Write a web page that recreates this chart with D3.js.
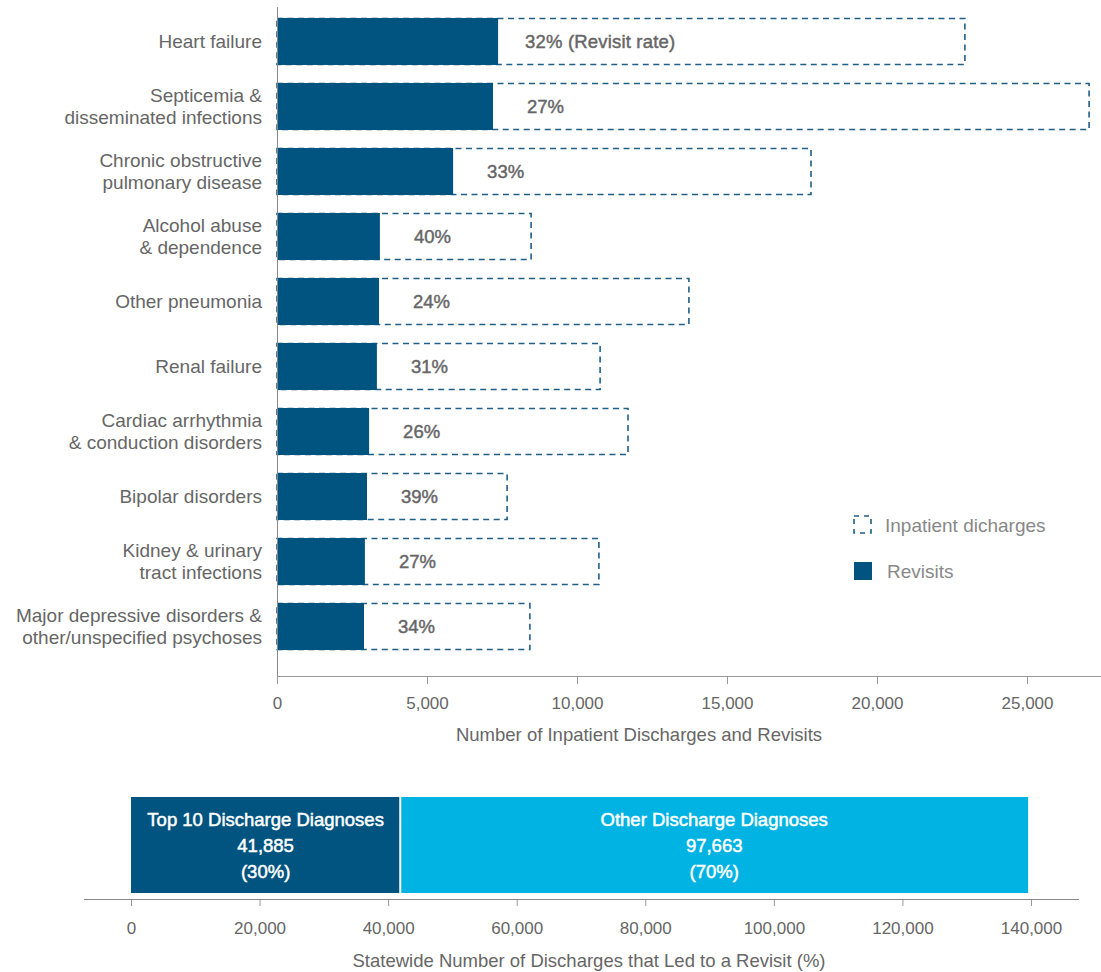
<!DOCTYPE html>
<html>
<head>
<meta charset="utf-8">
<script src="https://cdn.jsdelivr.net/npm/d3@7"></script>
<style>
  html, body { margin: 0; padding: 0; background: #fff; }
  svg { display: block; font-family: "Liberation Sans", Arial, sans-serif; }
</style>
</head>
<body>
<svg id="chart" width="1101" height="972"></svg>
<script>
// Top 10 discharge diagnoses: inpatient discharges vs. revisits
const diagnoses = [
  ["Heart failure"],
  ["Septicemia &", "disseminated infections"],
  ["Chronic obstructive", "pulmonary disease"],
  ["Alcohol abuse", "& dependence"],
  ["Other pneumonia"],
  ["Renal failure"],
  ["Cardiac arrhythmia", "& conduction disorders"],
  ["Bipolar disorders"],
  ["Kidney & urinary", "tract infections"],
  ["Major depressive disorders &", "other/unspecified psychoses"]
];
const discharges = [22930, 27070, 17800, 8470, 13730, 10770, 11700, 7670, 10730, 8430];
const revisits   = [7370, 7200, 5870, 3430, 3400, 3330, 3070, 3000, 2930, 2900];
const rateLabels = ["32% (Revisit rate)", "27%", "33%", "40%", "24%", "31%", "26%", "39%", "27%", "34%"];
const topTicks = [0, 5000, 10000, 15000, 20000, 25000];

// Statewide split of discharges that led to a revisit
const groupNames  = ["Top 10 Discharge Diagnoses", "Other Discharge Diagnoses"];
const groupValues = [41885, 97663];
const groupShares = ["(30%)", "(70%)"];
const bottomTicks = [0, 20000, 40000, 60000, 80000, 100000, 120000, 140000];

const svg = d3.select("#chart");
const fmt = d3.format(",");
const navy = "#00547f";
const dashColor = "#1f5f88";
const textGray = "#666";

// ---------- Main horizontal bar chart ----------
const x = d3.scaleLinear().domain([0, 25000]).range([277, 1027]);
const y = d3.scaleBand().domain(d3.range(diagnoses.length)).range([9, 659]).paddingInner(0.277).paddingOuter(0.138);

const rows = svg.append("g").selectAll("g").data(diagnoses).join("g");

// Discharges as dashed outlines
rows.append("rect")
  .attr("x", x(0))
  .attr("y", (d, i) => y(i) + 0.5)
  .attr("width", (d, i) => x(discharges[i]) - x(0))
  .attr("height", y.bandwidth() - 1)
  .attr("fill", "none")
  .attr("stroke", dashColor)
  .attr("stroke-width", 1.6)
  .attr("stroke-dasharray", "6,4.5");

// Revisits as solid bars
rows.append("rect")
  .attr("x", x(0))
  .attr("y", (d, i) => y(i))
  .attr("width", (d, i) => x(revisits[i]) - x(0))
  .attr("height", y.bandwidth())
  .attr("fill", navy);

// Revisit rate labels (medium weight)
rows.append("text")
  .attr("x", (d, i) => x(revisits[i]) + (i === 0 ? 27 : 34))
  .attr("y", (d, i) => y(i) + y.bandwidth() / 2)
  .attr("dy", "0.36em")
  .attr("fill", textGray)
  .attr("stroke", textGray)
  .attr("stroke-width", 0.45)
  .attr("font-size", 18.5)
  .attr("textLength", (d, i) => i === 0 ? 150 : null)
  .text((d, i) => rateLabels[i]);

// Category labels
rows.append("text")
  .attr("x", 262)
  .attr("y", (d, i) => y(i) + y.bandwidth() / 2)
  .attr("text-anchor", "end")
  .attr("fill", textGray)
  .attr("font-size", 19)
  .each(function (d) {
    const t = d3.select(this);
    const lh = 22;
    const start = -((d.length - 1) * lh) / 2;
    d.forEach((line, k) => {
      t.append("tspan")
        .attr("x", 262)
        .attr("dy", k === 0 ? (start / 19 + 0.36) + "em" : lh + "px")
        .text(line);
    });
  });

// Left axis line
svg.append("line")
  .attr("x1", 277.5).attr("x2", 277.5)
  .attr("y1", 7).attr("y2", 676)
  .attr("stroke", "#888").attr("stroke-width", 1);

// Bottom axis
const xAxis = svg.append("g")
  .attr("transform", "translate(0,676)")
  .call(d3.axisBottom(x).tickValues(topTicks).tickFormat(fmt).tickSize(8).tickPadding(13));
xAxis.select(".domain").remove();
xAxis.append("line").attr("x1", 277).attr("x2", 1101).attr("y1", 0.5).attr("y2", 0.5).attr("stroke", "#999");
xAxis.selectAll(".tick line").attr("stroke", "#999");
xAxis.selectAll(".tick text").attr("fill", textGray).attr("font-size", 17).attr("font-family", "Liberation Sans, Arial, sans-serif");

svg.append("text")
  .attr("x", (x(0) + 1101) / 2 - 50)
  .attr("y", 741)
  .attr("text-anchor", "middle")
  .attr("fill", textGray)
  .attr("font-size", 18.5)
  .text("Number of Inpatient Discharges and Revisits");

// Legend
const legend = svg.append("g");
legend.append("rect")
  .attr("x", 854).attr("y", 516).attr("width", 17).attr("height", 17)
  .attr("fill", "none").attr("stroke", dashColor).attr("stroke-width", 1.6).attr("stroke-dasharray", "5,5");
legend.append("text")
  .attr("x", 885).attr("y", 525).attr("dy", "0.36em")
  .attr("fill", "#888").attr("font-size", 19).text("Inpatient dicharges");
legend.append("rect")
  .attr("x", 854).attr("y", 562).attr("width", 18).attr("height", 18).attr("fill", navy);
legend.append("text")
  .attr("x", 887).attr("y", 571).attr("dy", "0.36em")
  .attr("fill", "#888").attr("font-size", 19).text("Revisits");

// ---------- Bottom stacked bar ----------
const xb = d3.scaleLinear().domain([0, 140000]).range([131, 1031]);
const starts = groupValues.map((v, i) => d3.sum(groupValues.slice(0, i)));
const groupFill = [navy, "#00b3e3"];

const seg = svg.append("g").selectAll("g").data(groupValues).join("g");
seg.append("rect")
  .attr("x", (d, i) => xb(starts[i]) + (i === 0 ? 0 : 1))
  .attr("y", 797)
  .attr("width", (d, i) => xb(starts[i] + d) - xb(starts[i]) - 1)
  .attr("height", 96)
  .attr("fill", (d, i) => groupFill[i]);

seg.each(function (d, i) {
  const cx = (xb(starts[i]) + xb(starts[i] + d)) / 2;
  const lines = [groupNames[i], fmt(d), groupShares[i]];
  lines.forEach((s, k) => {
    d3.select(this).append("text")
      .attr("x", cx)
      .attr("y", 819 + k * 26)
      .attr("dy", "0.36em")
      .attr("text-anchor", "middle")
      .attr("fill", "#fff")
      .attr("stroke", "#fff")
      .attr("stroke-width", 0.5)
      .attr("font-size", 18.5)
      .text(s);
  });
});

const bAxis = svg.append("g")
  .attr("transform", "translate(0,899)")
  .call(d3.axisBottom(xb).tickValues(bottomTicks).tickFormat(fmt).tickSize(7).tickPadding(16));
bAxis.select(".domain").remove();
bAxis.append("line").attr("x1", 84).attr("x2", 1079).attr("y1", 0.5).attr("y2", 0.5).attr("stroke", "#888");
bAxis.selectAll(".tick line").attr("stroke", "#999");
bAxis.selectAll(".tick text").attr("fill", textGray).attr("font-size", 17).attr("font-family", "Liberation Sans, Arial, sans-serif");

svg.append("text")
  .attr("x", 589)
  .attr("y", 967)
  .attr("text-anchor", "middle")
  .attr("fill", textGray)
  .attr("font-size", 18.5)
  .text("Statewide Number of Discharges that Led to a Revisit (%)");
</script>
</body>
</html>
